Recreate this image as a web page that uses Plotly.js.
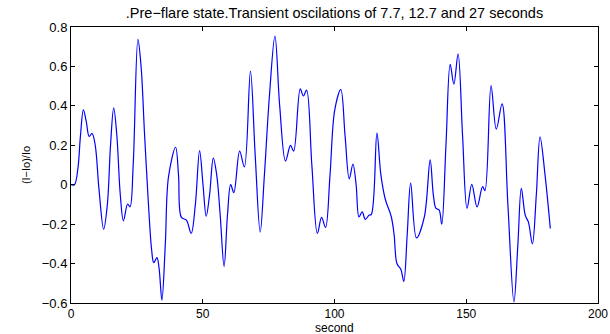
<!DOCTYPE html>
<html>
<head>
<meta charset="utf-8">
<script src="https://cdn.plot.ly/plotly-3.0.1.min.js"></script>
<style>
html,body{margin:0;padding:0;background:#fff;}
#chart{width:610px;height:334px;}
</style>
</head>
<body>
<div id="chart"></div>
<script>
// time (s) and relative intensity (I-Io)/Io
var timeSec = [0, 1.3, 2.6, 3.6, 4.7, 5.8, 6.9, 8.0, 9.2, 10.6, 12.4, 13.8, 15.0, 16.2, 17.4, 18.7, 19.9, 21.5, 22.4, 23.6, 25.4, 26.6, 27.9, 29.4, 30.6, 31.4, 32.6, 33.4, 34.5, 35.8, 37.0, 39.7, 40.8, 41.9, 43.8, 45.6, 47.2, 48.8, 50.1, 51.3, 52.6, 54.0, 55.3, 56.6, 58.1, 59.4, 60.6, 61.8, 64.0, 65.8, 68.1, 69.9, 71.8, 73.4, 75.3, 77.4, 79.2, 81.4, 83.3, 84.5, 87.0, 88.2, 89.4, 91.4, 93.5, 95.1, 96.6, 98.3, 100.1, 102.4, 104.0, 105.6, 107.0, 108.2, 109.3, 110.5, 111.7, 113.1, 114.0, 116.1, 117.6, 119.3, 121.5, 122.6, 123.7, 125.2, 126.3, 127.6, 128.9, 131.1, 134.1, 136.3, 137.5, 138.5, 139.7, 140.7, 142.3, 143.9, 145.3, 146.9, 148.6, 150.3, 152.1, 154.1, 156.2, 157.1, 159.4, 161.4, 163.6, 165.8, 168.1, 169.6, 170.9, 172.4, 173.6, 175.1, 176.6, 178.0, 179.9, 181.9];
var relIntensity = [0, 0.0, 0.08, 0.25, 0.38, 0.32, 0.245, 0.26, 0.2, -0.02, -0.226, -0.1, 0.2, 0.39, 0.25, -0.05, -0.183, -0.098, -0.112, 0.1, 0.737, 0.6, 0.26, -0.1, -0.33, -0.395, -0.37, -0.42, -0.585, -0.3, 0.04, 0.19, 0.05, -0.166, -0.18, -0.247, -0.1, 0.173, 0.0, -0.16, -0.05, 0.135, 0.05, -0.15, -0.415, -0.15, 0.0, -0.04, 0.17, 0.09, 0.576, 0.15, -0.24, 0.05, 0.45, 0.754, 0.4, 0.12, 0.2, 0.17, 0.486, 0.45, 0.48, 0.1, -0.247, -0.166, -0.217, 0.05, 0.38, 0.483, 0.25, 0.03, 0.105, 0.0, -0.163, -0.138, -0.176, -0.155, -0.15, 0.262, 0.05, -0.075, -0.16, -0.25, -0.4, -0.43, -0.49, -0.25, 0.008, -0.27, -0.163, 0.126, -0.05, -0.12, -0.128, -0.2, 0.2, 0.61, 0.51, 0.664, 0.25, -0.12, 0.002, -0.113, -0.01, -0.03, 0.503, 0.282, 0.41, -0.1, -0.595, -0.3, -0.018, -0.155, -0.19, -0.3, -0.05, 0.243, 0.05, -0.222];
var xTicks = [0, 50, 100, 150, 200];
var yTicks = [-0.6, -0.4, -0.2, 0, 0.2, 0.4, 0.6, 0.8];
var yTickText = ["\u22120.6", "\u22120.4", "\u22120.2", "0", "0.2", "0.4", "0.6", "0.8"];

var FONT = "Liberation Sans, Arial, Helvetica, sans-serif";

var trace = {
  x: timeSec,
  y: relIntensity,
  type: "scatter",
  mode: "lines",
  line: {color: "#0000ff", width: 1.2, shape: "spline", smoothing: 1.0},
  hoverinfo: "skip"
};

var axisCommon = {
  showline: true, linecolor: "#000", linewidth: 1, mirror: "ticks",
  ticks: "inside", ticklen: 4, tickcolor: "#000", tickwidth: 1,
  showgrid: false, zeroline: false,
  tickfont: {family: FONT, size: 13, color: "#000"}
};

var layout = {
  width: 610, height: 334,
  margin: {l: 71, r: 12, t: 27, b: 31},
  paper_bgcolor: "#fff", plot_bgcolor: "#fff",
  showlegend: false,
  title: {
    text: ".Pre\u2212flare state.Transient oscilations of 7.7, 12.7 and 27 seconds",
    font: {family: FONT, size: 14.5, color: "#000"},
    x: 0.5, xref: "paper", xanchor: "center",
    y: 1 - 13/334, yref: "container", yanchor: "middle"
  },
  xaxis: Object.assign({}, axisCommon, {
    range: [0, 200], tickmode: "array", tickvals: xTicks,
    tickfont: {family: FONT, size: 12, color: "#000"}
  }),
  yaxis: Object.assign({}, axisCommon, {
    range: [-0.6, 0.8], tickmode: "array", tickvals: yTicks, ticktext: yTickText,
    title: {text: "(I\u2212Io)/Io", font: {family: FONT, size: 11, color: "#000"}, standoff: 8}
  }),
  annotations: [{
    text: "second", showarrow: false,
    xref: "paper", yref: "paper", x: 0.5, y: -(327.5 - 303) / 276,
    xanchor: "center", yanchor: "middle",
    font: {family: FONT, size: 12, color: "#000"}
  }]
};

Plotly.newPlot("chart", [trace], layout, {staticPlot: true, displayModeBar: false});
</script>
</body>
</html>
